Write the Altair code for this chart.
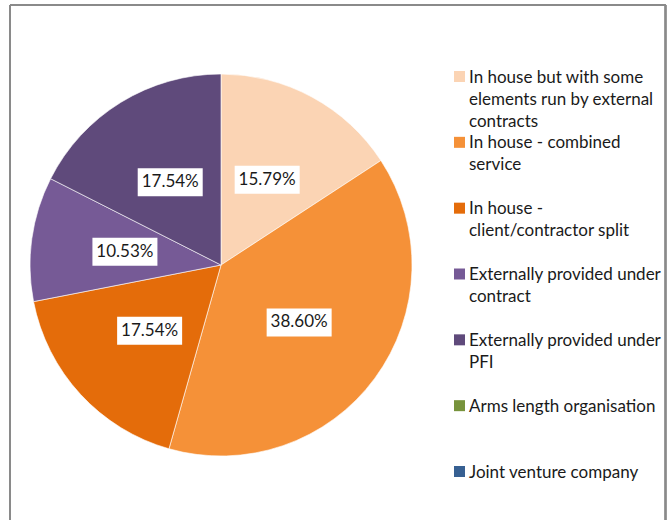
import altair as alt
import pandas as pd

categories = [
    "In house but with some elements run by external contracts",
    "In house - combined service",
    "In house - client/contractor split",
    "Externally provided under contract",
    "Externally provided under PFI",
    "Arms length organisation",
    "Joint venture company",
]
legend_labels = [
    "In house but with some\nelements run by external\ncontracts",
    "In house - combined\nservice",
    "In house -\nclient/contractor split",
    "Externally provided under\ncontract",
    "Externally provided under\nPFI",
    "Arms length organisation",
    "Joint venture company",
]
percents = [15.79, 38.60, 17.54, 10.53, 17.54, 0.0, 0.0]
colors = ["#FBD4B4", "#F59138", "#E46C0A", "#765A96", "#5F4A7B", "#77933C", "#376092"]

df = pd.DataFrame({
    "category": categories,
    "legend": legend_labels,
    "pct": percents,
    "idx": list(range(len(categories))),
})

CX, CY, R, RL = 221, 265, 191, 97
FONT = "Lato"

base = alt.Chart(df)
color = alt.Color("category:N", scale=alt.Scale(domain=categories, range=colors), legend=None)

pie = base.transform_filter("datum.pct > 0").mark_arc(
    outerRadius=R, stroke="white", strokeWidth=0.6
).encode(
    theta=alt.Theta("pct:Q", stack=True),
    order=alt.Order("idx:Q"),
    color=color,
    x=alt.value(CX),
    y=alt.value(CY),
)

lab_base = (
    base.transform_filter("datum.pct > 0")
    .transform_joinaggregate(total="sum(pct)")
    .transform_window(cum="sum(pct)", sort=[alt.SortField("idx")], frame=[None, 0])
    .transform_calculate(ang="2*PI*(datum.cum - datum.pct/2)/datum.total")
    .transform_calculate(lx=f"{CX} + {RL}*sin(datum.ang)")
    .transform_calculate(ly=f"{CY} - {RL}*cos(datum.ang)")
    .transform_calculate(bx1="datum.lx - 32.5", bx2="datum.lx + 32.5")
    .transform_calculate(by1="datum.ly - 14", by2="datum.ly + 14")
    .transform_calculate(txt="format(datum.pct, '.2f') + '%'")
)

boxes = lab_base.mark_rect(color="white").encode(
    x=alt.X("bx1:Q", scale=None, axis=None),
    x2="bx2:Q",
    y=alt.Y("by1:Q", scale=None, axis=None),
    y2="by2:Q",
)
texts = lab_base.mark_text(font=FONT, fontSize=17, color="#1a1a1a").encode(
    x=alt.X("lx:Q", scale=None, axis=None),
    y=alt.Y("ly:Q", scale=None, axis=None),
    text="txt:N",
)

leg_y = alt.Y("category:N", scale=alt.Scale(type="point", domain=categories, range=[76.5, 471.5], padding=0), axis=None)

leg_sym = base.mark_point(shape="square", filled=True, size=121, opacity=1).encode(
    x=alt.value(459.5),
    y=leg_y,
    color=color,
)
leg_txt = base.mark_text(
    align="left", baseline="top", lineBreak="\n", font=FONT, fontSize=17,
    lineHeight=22, dy=-7, color="#1a1a1a"
).encode(
    x=alt.value(469),
    y=leg_y,
    text="legend:N",
)

frame_color = "#8a8a8a"
frame_l = base.mark_rule(color=frame_color, strokeWidth=1.5).encode(
    x=alt.value(10), y=alt.value(5), y2=alt.value(520))
frame_t = base.mark_rule(color=frame_color, strokeWidth=1.5).encode(
    x=alt.value(10), x2=alt.value(665.5), y=alt.value(5))
frame_r = base.mark_rule(color=frame_color, strokeWidth=1.5).encode(
    x=alt.value(665.5), y=alt.value(5), y2=alt.value(520))

chart = alt.layer(
    pie, boxes, texts, leg_sym, leg_txt, frame_l, frame_t, frame_r
).resolve_scale(y="independent", x="independent").properties(
    width=668, height=520, padding=0, autosize="none", background="white"
).configure_view(stroke=None)

chart.save("out.html", embed_options={"renderer": "svg", "actions": False})
